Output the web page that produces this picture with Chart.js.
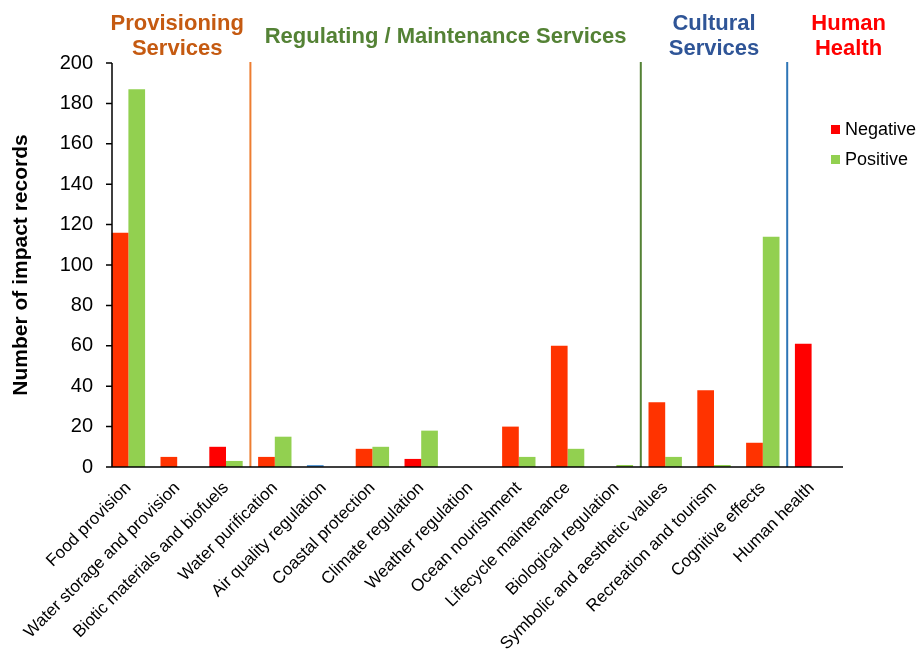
<!DOCTYPE html>
<html>
<head>
<meta charset="utf-8">
<script src="https://cdn.jsdelivr.net/npm/chart.js@4/dist/chart.umd.min.js"></script>
<style>
  body { margin: 0; background: #fff; }
  #wrap { width: 923px; height: 650px; position: relative; }
</style>
</head>
<body>
<div id="wrap"><canvas id="myChart"></canvas></div>
<script>
// categories and values
const categories = [
  'Food provision', 'Water storage and provision', 'Biotic materials and biofuels',
  'Water purification', 'Air quality regulation', 'Coastal protection',
  'Climate regulation', 'Weather regulation', 'Ocean nourishment',
  'Lifecycle maintenance', 'Biological regulation', 'Symbolic and aesthetic values',
  'Recreation and tourism', 'Cognitive effects', 'Human health'
];
const negative = [116, 5, 10, 5, 1, 9, 4, 0, 20, 60, 0, 32, 38, 12, 61];
const positive = [187, 0, 3, 15, 0, 10, 18, 0, 5, 9, 1, 5, 1, 114, 0];

// service groups: header text + first/last category index
const groupNames = [['Provisioning', 'Services'], ['Regulating / Maintenance Services'], ['Cultural', 'Services'], ['Human', 'Health']];
const groupFirst = [0, 3, 11, 14];
const groupLast = [2, 10, 13, 14];

// colours
const negColor = '#FF3300';
const negColors = categories.map(c => {
  if (c === 'Air quality regulation') return '#5B9BD5';
  if (c === 'Biotic materials and biofuels' || c === 'Climate regulation' || c === 'Human health') return '#FF0000';
  return negColor;
});
const groupColors = ['#C55A11', '#548235', '#2F5597', '#FF0000'];
const sepColors = ['#ED7D31', '#548235', '#2E75B6'];

const FONT = '"Liberation Sans", Arial, sans-serif';

// axes, separators, headers, legend
const decorPlugin = {
  id: 'decor',
  afterDatasetsDraw(chart) {
    const ctx = chart.ctx;
    const area = chart.chartArea;
    const x = chart.scales.x;
    const y = chart.scales.y;
    const axisX = area.left + 8;
    ctx.save();
    // group separators
    for (let g = 1; g < groupFirst.length; g++) {
      const px = (x.getPixelForValue(groupFirst[g] - 1) + x.getPixelForValue(groupFirst[g])) / 2;
      ctx.strokeStyle = sepColors[g - 1];
      ctx.lineWidth = 2;
      ctx.beginPath();
      ctx.moveTo(px, area.top - 1);
      ctx.lineTo(px, area.bottom);
      ctx.stroke();
    }
    // axis lines
    ctx.strokeStyle = '#000';
    ctx.lineWidth = 1.5;
    ctx.beginPath();
    ctx.moveTo(axisX, area.top);
    ctx.lineTo(axisX, area.bottom);
    ctx.moveTo(axisX, area.bottom);
    ctx.lineTo(area.right + 7, area.bottom);
    y.ticks.forEach(t => {
      const py = y.getPixelForValue(t.value);
      ctx.moveTo(axisX - 6, py);
      ctx.lineTo(axisX, py);
    });
    ctx.stroke();
    ctx.restore();
  },
  afterDraw(chart) {
    const ctx = chart.ctx;
    const x = chart.scales.x;
    ctx.save();
    ctx.font = 'bold 22px ' + FONT;
    ctx.textAlign = 'center';
    ctx.textBaseline = 'middle';
    groupNames.forEach((lines, g) => {
      let cx = (x.getPixelForValue(groupFirst[g]) + x.getPixelForValue(groupLast[g])) / 2;
      if (g === groupNames.length - 1) cx += 37;
      ctx.fillStyle = groupColors[g];
      if (lines.length === 1) {
        ctx.fillText(lines[0], cx, 37);
      } else {
        ctx.fillText(lines[0], cx, 24);
        ctx.fillText(lines[1], cx, 49);
      }
    });
    // legend
    ctx.font = '18px ' + FONT;
    ctx.textAlign = 'left';
    chart.data.datasets.forEach((ds, i) => {
      const ly = 130 + i * 30;
      ctx.fillStyle = ds.legendColor;
      ctx.fillRect(831, ly - 5, 9, 9);
      ctx.fillStyle = '#000';
      ctx.fillText(ds.label, 845, ly);
    });
    ctx.restore();
  }
};

let ctx = document.getElementById('myChart').getContext('2d');
let myChart = new Chart(ctx, {
  type: 'bar',
  data: {
    labels: categories,
    datasets: [
      {
        label: 'Negative',
        data: negative,
        backgroundColor: negColors,
        legendColor: '#FF0000',
        categoryPercentage: 0.684,
        barPercentage: 1
      },
      {
        label: 'Positive',
        data: positive,
        backgroundColor: '#92D050',
        legendColor: '#92D050',
        categoryPercentage: 0.684,
        barPercentage: 1
      }
    ]
  },
  options: {
    responsive: true,
    maintainAspectRatio: false,
    animation: false,
    layout: { padding: { top: 63, right: 87, left: 0, bottom: 0 } },
    plugins: {
      legend: { display: false },
      tooltip: { enabled: false }
    },
    scales: {
      x: {
        grid: { display: false, drawTicks: false },
        border: { display: false },
        ticks: {
          autoSkip: false,
          minRotation: 45,
          maxRotation: 45,
          padding: 11,
          color: '#000',
          font: { family: FONT, size: 17 }
        },
        afterFit(scale) { scale.height = 183; }
      },
      y: {
        min: 0,
        max: 200,
        grid: { display: false, drawTicks: false },
        border: { display: false },
        ticks: {
          stepSize: 20,
          padding: 11,
          color: '#000',
          font: { family: FONT, size: 20 }
        },
        title: {
          display: true,
          text: 'Number of impact records',
          color: '#000',
          padding: { top: 9, bottom: 0 },
          font: { family: FONT, size: 21, weight: 'bold' }
        },
        afterFit(scale) { scale.width = 104; }
      }
    }
  },
  plugins: [decorPlugin]
});
</script>
</body>
</html>
